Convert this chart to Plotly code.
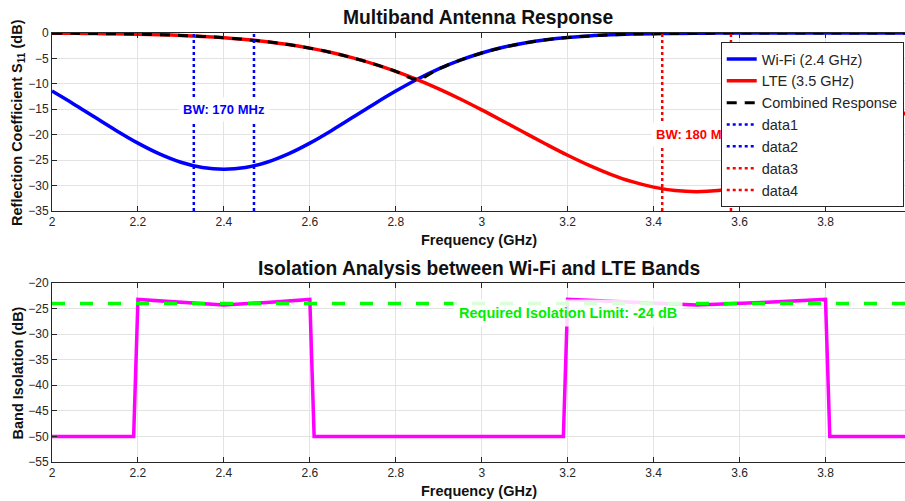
import plotly.graph_objects as go
import numpy as np

# ---------------- data ----------------
freq = [2.00, 2.05, 2.10, 2.15, 2.20, 2.25, 2.30, 2.35, 2.40, 2.45,
        2.50, 2.55, 2.60, 2.65, 2.70, 2.75, 2.80, 2.85, 2.90, 2.95,
        3.00, 3.05, 3.10, 3.15, 3.20, 3.25, 3.30, 3.35, 3.40, 3.45,
        3.50, 3.55, 3.60, 3.65, 3.70, 3.75, 3.80, 3.85, 3.90, 3.95, 4.00]

s11_wifi = [-11.42, -13.94, -16.58, -19.20, -21.65, -23.77, -25.41, -26.45, -26.80, -26.45,
            -25.41, -23.77, -21.65, -19.20, -16.58, -13.94, -11.42, -9.10, -7.06, -5.34,
            -3.93, -2.81, -1.96, -1.33, -0.88, -0.57, -0.36, -0.22, -0.13, -0.08,
            -0.04, -0.02, -0.01, 0.0, 0.0, 0.0, 0.0, 0.0, 0.0, 0.0, 0.0]

s11_lte = [-0.05, -0.07, -0.11, -0.16, -0.23, -0.34, -0.48, -0.67, -0.94, -1.28,
           -1.72, -2.28, -2.98, -3.84, -4.88, -6.11, -7.54, -9.17, -10.99, -12.98,
           -15.12, -17.35, -19.62, -21.87, -24.04, -26.03, -27.78, -29.23, -30.31, -30.98,
           -31.20, -30.98, -30.31, -29.23, -27.78, -26.03, -24.04, -21.87, -19.62, -17.35, -15.12]

s11_combined = list(np.maximum(np.array(s11_wifi), np.array(s11_lte)))

wifi_bw_edges = [2.33, 2.47]
lte_bw_edges = [3.42, 3.58]
s11_ylim = [-35, 0]

iso_freq = [2.00, 2.19, 2.20, 2.30, 2.40, 2.50, 2.60, 2.61,
            3.19, 3.20, 3.35, 3.50, 3.65, 3.80, 3.81, 4.00]
iso_vals = [-50.0, -50.0, -23.2, -23.8, -24.3, -23.8, -23.2, -50.0,
            -50.0, -23.2, -23.8, -24.3, -23.8, -23.2, -50.0, -50.0]
iso_limit = -24
iso_limit_x = [2.0, 4.0]

x_ticks = [2, 2.2, 2.4, 2.6, 2.8, 3, 3.2, 3.4, 3.6, 3.8]
x_tick_labels = ["2", "2.2", "2.4", "2.6", "2.8", "3", "3.2", "3.4", "3.6", "3.8"]
y1_ticks = [0, -5, -10, -15, -20, -25, -30, -35]
y2_ticks = [-20, -25, -30, -35, -40, -45, -50, -55]

# ---------------- figure ----------------
FONT = "Liberation Sans, Arial, Helvetica, sans-serif"
AX = "#262626"
GRID = "#e3e3e3"

fig = go.Figure()

fig.add_trace(go.Scatter(x=freq, y=s11_wifi, mode="lines", name="Wi-Fi (2.4 GHz)",
                         line=dict(color="#0000ff", width=3.5, shape="spline"),
                         xaxis="x", yaxis="y"))
fig.add_trace(go.Scatter(x=freq, y=s11_lte, mode="lines", name="LTE (3.5 GHz)",
                         line=dict(color="#ff0000", width=3.5, shape="spline"),
                         xaxis="x", yaxis="y"))
fig.add_trace(go.Scatter(x=freq, y=s11_combined, mode="lines", name="Combined Response",
                         line=dict(color="#000000", width=3, dash="10px,8px", shape="spline"),
                         xaxis="x", yaxis="y"))
names = ["data1", "data2", "data3", "data4"]
edges = wifi_bw_edges + lte_bw_edges
cols = ["#0000ff", "#0000ff", "#ff0000", "#ff0000"]
for n, e, c in zip(names, edges, cols):
    fig.add_trace(go.Scatter(x=[e, e], y=s11_ylim, mode="lines", name=n,
                             line=dict(color=c, width=2.5, dash="dot"),
                             xaxis="x", yaxis="y"))

fig.add_trace(go.Scatter(x=iso_freq, y=iso_vals, mode="lines", showlegend=False,
                         line=dict(color="#ff00ff", width=3.5),
                         xaxis="x2", yaxis="y2"))
fig.add_trace(go.Scatter(x=iso_limit_x, y=[iso_limit, iso_limit], mode="lines", showlegend=False,
                         line=dict(color="#00ff00", width=3.5, dash="13px,15px"),
                         xaxis="x2", yaxis="y2"))

xr = [2, 3.985]
axis_common = dict(showline=True, linecolor=AX, linewidth=1, ticks="inside", ticklen=5,
                   tickcolor=AX, showgrid=True, gridcolor=GRID, gridwidth=1, zeroline=False,
                   tickfont=dict(family=FONT, size=12, color=AX))

fig.update_layout(
    width=905, height=501,
    margin=dict(l=52, r=0, t=33, b=39),
    paper_bgcolor="white", plot_bgcolor="white",
    font=dict(family=FONT, color=AX),
    xaxis=dict(domain=[0, 1], range=xr, anchor="y", tickvals=x_ticks, ticktext=x_tick_labels,
               mirror="allticks", **axis_common),
    yaxis=dict(domain=[0.5851, 1], range=[-35, 0], anchor="x", tickvals=y1_ticks, **axis_common),
    xaxis2=dict(domain=[0, 1], range=xr, anchor="y2", tickvals=x_ticks, ticktext=x_tick_labels,
                mirror="allticks", **axis_common),
    yaxis2=dict(domain=[0, 0.4172], range=[-55, -20], anchor="x2", tickvals=y2_ticks, **axis_common),
    showlegend=True,
    legend=dict(x=0.9985, xanchor="right", y=0.979, yanchor="top", bgcolor="white",
                bordercolor=AX, borderwidth=1, font=dict(family=FONT, size=14.5, color=AX),
                tracegroupgap=0, itemwidth=30),
)

ann = []
def paper_ann(text, x, y, size, angle=0, color="#000000"):
    ann.append(dict(text=text, x=x, y=y, xref="paper", yref="paper", showarrow=False,
                    xanchor="center", yanchor="middle", textangle=angle,
                    font=dict(family=FONT, size=size, color=color)))

paper_ann("<b>Multiband Antenna Response</b>", 0.5, 1.035, 19.3, color="#111111")
paper_ann("<b>Isolation Analysis between Wi-Fi and LTE Bands</b>", 0.5, 0.4499, 19.3, color="#111111")
paper_ann("<b>Frequency (GHz)</b>", 0.5, 0.5175, 14.5, color="#111111")
paper_ann("<b>Frequency (GHz)</b>", 0.5, -0.0676, 14.5, color="#111111")
paper_ann("<b>Reflection Coefficient S<sub>11</sub> (dB)</b>", -0.0399, 0.7925, 14.5, angle=-90, color="#111111")
paper_ann("<b>Band Isolation (dB)</b>", -0.0399, 0.2086, 14.5, angle=-90, color="#111111")

ann.append(dict(text="<b>BW: 170 MHz</b>", x=np.mean(wifi_bw_edges), y=-15, xref="x", yref="y",
                showarrow=False, bgcolor="white", borderpad=4,
                font=dict(family=FONT, size=13, color="#0000ff")))
ann.append(dict(text="<b>BW: 180 MHz</b>", x=np.mean(lte_bw_edges), y=-20, xref="x", yref="y",
                showarrow=False, bgcolor="white", borderpad=4,
                font=dict(family=FONT, size=13, color="#ff0000")))
ann.append(dict(text="<b>Required Isolation Limit: -24 dB</b>", x=3.2, y=-25.9, xref="x2", yref="y2",
                showarrow=False, bgcolor="rgba(255,255,255,0.85)", borderpad=5,
                font=dict(family=FONT, size=14.5, color="#00ee00")))
fig.update_layout(annotations=ann)

# bring the legend above the annotations (as in the original figure)
post = """
var gd = document.getElementById('{plot_id}');
var leg = gd.querySelector('g.legend');
if (leg && leg.parentNode) { leg.parentNode.appendChild(leg); }
"""
fig.write_html("out.html", post_script=post)
